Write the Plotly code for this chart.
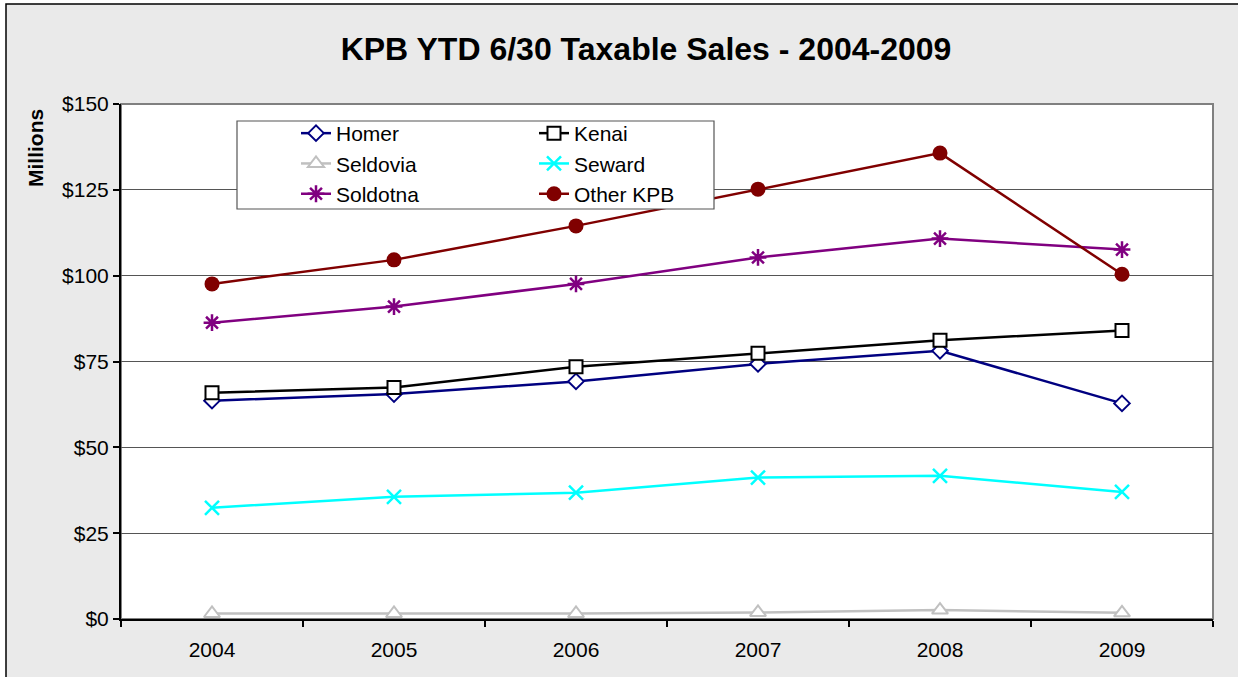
import plotly.graph_objects as go

years = ["2004", "2005", "2006", "2007", "2008", "2009"]
homer = [63.6, 65.5, 69.2, 74.3, 78.1, 62.8]
kenai = [65.9, 67.4, 73.5, 77.4, 81.2, 84.0]
seldovia = [1.6, 1.6, 1.6, 1.9, 2.6, 1.8]
seward = [32.4, 35.6, 36.8, 41.2, 41.7, 37.0]
soldotna = [86.3, 91.0, 97.6, 105.3, 110.8, 107.6]
other_kpb = [97.6, 104.6, 114.5, 125.2, 135.7, 100.4]

series = [
    ("Homer", homer, "#000080", dict(symbol="diamond", size=12, color="white", line=dict(color="#000080", width=2)), "legend"),
    ("Kenai", kenai, "#000000", dict(symbol="square", size=13, color="white", line=dict(color="#000000", width=2)), "legend2"),
    ("Seldovia", seldovia, "#C0C0C0", dict(symbol="triangle-up", size=14, color="white", line=dict(color="#C0C0C0", width=2)), "legend"),
    ("Seward", seward, "#00FFFF", dict(symbol="x-thin", size=14, color="#00FFFF", line=dict(color="#00FFFF", width=2.5)), "legend2"),
    ("Soldotna", soldotna, "#800080", dict(symbol="asterisk", size=14, color="#800080", line=dict(color="#800080", width=2.5)), "legend"),
    ("Other KPB", other_kpb, "#800000", dict(symbol="circle", size=15, color="#800000", line=dict(color="#800000", width=0)), "legend2"),
]

fig = go.Figure()
for name, vals, col, mk, lg in series:
    fig.add_trace(go.Scatter(x=years, y=vals, name=name, mode="lines+markers",
                             line=dict(color=col, width=2.5), marker=mk, legend=lg))

L, R, T, B = 121, 25, 104, 58
W, H = 1238, 677
pw, ph = W - L - R, H - T - B

def px2x(px):
    return (px - L) / pw

def py2y(py):
    return (H - B - py) / ph

shapes = [
    dict(type="rect", xref="paper", yref="paper", x0=px2x(6), x1=px2x(1250), y0=py2y(690), y1=py2y(4),
         fillcolor="#EAEAEA", line=dict(color="black", width=1.5), layer="below"),
    dict(type="rect", xref="paper", yref="paper", x0=0, x1=1, y0=0, y1=1,
         fillcolor="white", line=dict(color="#808080", width=2), layer="below"),
    dict(type="rect", xref="paper", yref="paper", x0=px2x(237), x1=px2x(714), y0=py2y(209), y1=py2y(121),
         fillcolor="white", line=dict(color="#555555", width=1.2), layer="above"),
]

legend_common = dict(orientation="v", xanchor="left", yanchor="top", bgcolor="rgba(0,0,0,0)",
                     borderwidth=0, font=dict(size=21), traceorder="normal")

fig.update_layout(
    width=W, height=H,
    margin=dict(l=L, r=R, t=T, b=B),
    paper_bgcolor="white",
    plot_bgcolor="rgba(0,0,0,0)",
    font=dict(family="Liberation Sans, Arial, sans-serif", color="black", size=21),
    title=dict(text="<b>KPB YTD 6/30 Taxable Sales - 2004-2009</b>", font=dict(size=32),
               x=px2x(646), xref="paper", xanchor="center", y=1 - 49 / H, yanchor="middle"),
    shapes=shapes,
    showlegend=True,
    legend=dict(x=px2x(296), y=py2y(113), **legend_common),
    legend2=dict(x=px2x(534), y=py2y(113), **legend_common),
    annotations=[dict(text="<b>Millions</b>", textangle=-90, xref="paper", yref="paper",
                      x=px2x(35), y=py2y(148), showarrow=False, font=dict(size=21),
                      xanchor="center", yanchor="middle")],
)

fig.update_xaxes(type="category", range=[-0.5, 5.5], tickson="boundaries", ticks="outside",
                 ticklen=6, tickcolor="black", tickwidth=1.5, showline=True, linecolor="black",
                 linewidth=2, showgrid=False, tickfont=dict(size=21), ticklabelstandoff=11,
                 fixedrange=True)
fig.update_yaxes(range=[0, 150], dtick=25, tickprefix="$", ticks="outside", ticklen=6,
                 tickcolor="black", tickwidth=1.5, showline=True, linecolor="black", linewidth=2,
                 showgrid=True, gridcolor="#555555", gridwidth=1, zeroline=False,
                 tickfont=dict(size=21), fixedrange=True)

fig.write_html("out.html", config={"displayModeBar": False},
               post_script="document.body.style.margin='0';")
